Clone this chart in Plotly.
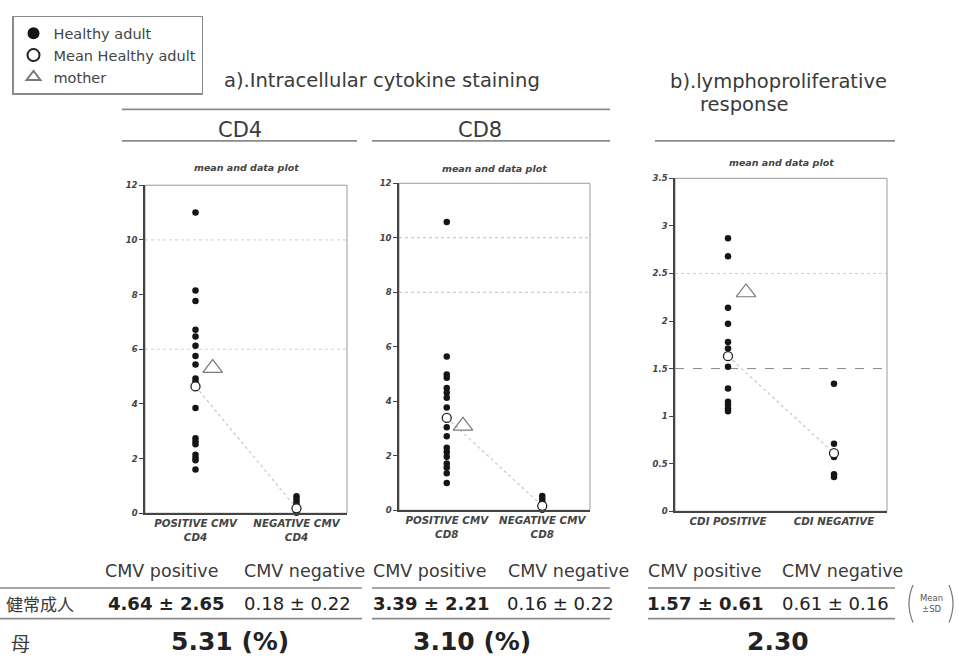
import plotly.graph_objects as go

W, H = 959, 662


def px(x):
    return x / W


def py(y):
    return 1 - y / H


# ---------------- data ----------------
cd4_tick_labels = ["POSITIVE CMV<br>CD4", "NEGATIVE CMV<br>CD4"]
cd8_tick_labels = ["POSITIVE CMV<br>CD8", "NEGATIVE CMV<br>CD8"]
cdi_tick_labels = ["CDI POSITIVE", "CDI NEGATIVE"]

cd4_positive = [11.0, 8.15, 7.76, 6.71, 6.47, 6.13, 5.75, 5.44, 4.93, 4.82,
                3.85, 2.74, 2.62, 2.52, 2.14, 2.02, 1.94, 1.60]
cd4_negative = [0.62, 0.52, 0.42, 0.32, 0.22, 0.12, 0.02]
cd4_mean = [4.64, 0.18]
cd4_mother = 5.31

cd8_positive = [10.58, 5.64, 4.98, 4.86, 4.49, 4.31, 4.13, 3.77, 3.05, 2.72,
                2.29, 2.14, 1.96, 1.72, 1.57, 1.36, 1.00]
cd8_negative = [0.52, 0.42, 0.32, 0.22, 0.10, 0.02]
cd8_mean = [3.39, 0.16]
cd8_mother = 3.10

cdi_positive = [2.87, 2.68, 2.14, 1.97, 1.78, 1.71, 1.52, 1.29, 1.15, 1.12, 1.08, 1.05]
cdi_negative = [1.34, 0.71, 0.57, 0.39, 0.36]
cdi_mean = [1.63, 0.61]
cdi_mother = 2.30

cd4_yticks = [0, 2, 4, 6, 8, 10, 12]
cd8_yticks = [0, 2, 4, 6, 8, 10, 12]
cdi_yticks = [0, 0.5, 1, 1.5, 2, 2.5, 3, 3.5]
cdi_ytick_text = ["0", "0.5", "1", "1.5", "2", "2.5", "3", "3.5"]

table_headers = ["CMV positive", "CMV negative"] * 3
healthy_row_label = "健常成人"
healthy_row_values = ["4.64 ± 2.65", "0.18 ± 0.22", "3.39 ± 2.21",
                      "0.16 ± 0.22", "1.57 ± 0.61", "0.61 ± 0.16"]
mother_row_label = "母"
mother_row_values = ["5.31 (%)", "3.10 (%)", "2.30"]

# ---------------- styling ----------------
TXT = "#3a3a3a"
FONT = "DejaVu Sans"
CJK = "Noto Sans CJK JP"
MOTHER_OFFSET = 0.17

panels = [
    dict(pos=cd4_positive, neg=cd4_negative, mean=cd4_mean, mother=cd4_mother,
         ticks=cd4_tick_labels, yt=cd4_yticks, ytt=[str(v) for v in cd4_yticks],
         yr=[0, 12], grid=[(10, "#cfcfcf", "dot"), (6, "#cfcfcf", "dot")],
         xd=[px(145), px(347)], yd=[py(516), py(183)], title_y=165),
    dict(pos=cd8_positive, neg=cd8_negative, mean=cd8_mean, mother=cd8_mother,
         ticks=cd8_tick_labels, yt=cd8_yticks, ytt=[str(v) for v in cd8_yticks],
         yr=[0, 12], grid=[(10, "#bdbdbd", "dot"), (8, "#bdbdbd", "dot")],
         xd=[px(399), px(590)], yd=[py(513), py(181)], title_y=166),
    dict(pos=cdi_positive, neg=cdi_negative, mean=cdi_mean, mother=cdi_mother,
         ticks=cdi_tick_labels, yt=cdi_yticks, ytt=cdi_ytick_text,
         yr=[0, 3.5], grid=[(2.5, "#cfcfcf", "dot"), (1.5, "#888888", "dash")],
         xd=[px(675), px(887)], yd=[py(514), py(176)], title_y=160),
]

fig = go.Figure()
shapes = []
annotations = []
layout_axes = {}

for i, p in enumerate(panels):
    n = "" if i == 0 else str(i + 1)
    xa, ya = "x" + n, "y" + n
    first = i == 0
    # connecting dotted line between means
    fig.add_trace(go.Scatter(x=[0, 1], y=p["mean"], mode="lines", xaxis=xa, yaxis=ya,
                             line=dict(color="#c8c8c8", width=1.2, dash="dot"),
                             showlegend=False, hoverinfo="skip"))
    # healthy adults
    fig.add_trace(go.Scatter(
        x=[0] * len(p["pos"]) + [1] * len(p["neg"]), y=p["pos"] + p["neg"],
        mode="markers", xaxis=xa, yaxis=ya, name="Healthy adult",
        marker=dict(color="#151515", size=6.5), cliponaxis=False,
        showlegend=first, legendgroup="h"))
    # mean
    fig.add_trace(go.Scatter(
        x=[0, 1], y=p["mean"], mode="markers", xaxis=xa, yaxis=ya,
        name="Mean Healthy adult",
        marker=dict(color="white", size=9, line=dict(color="#222", width=1.3)),
        cliponaxis=False, showlegend=first, legendgroup="m"))
    # mother
    fig.add_trace(go.Scatter(
        x=[MOTHER_OFFSET], y=[p["mother"]], mode="markers", xaxis=xa, yaxis=ya,
        name="mother",
        marker=dict(symbol="triangle-up-open", size=17, color="#7a7a7a",
                    line=dict(width=1.2)),
        showlegend=first, legendgroup="t"))

    layout_axes["xaxis" + n] = dict(
        domain=p["xd"], anchor=ya, range=[-0.5, 1.5], tickvals=[0, 1],
        ticktext=p["ticks"], showgrid=False, zeroline=False, showline=True,
        linecolor="#444", linewidth=1.5, ticks="", fixedrange=True,
        tickfont=dict(family=FONT, size=10.3, color="#444", style="italic", weight="bold"))
    layout_axes["yaxis" + n] = dict(
        domain=p["yd"], anchor=xa, range=p["yr"], tickvals=p["yt"], ticktext=p["ytt"],
        showgrid=False, zeroline=False, showline=True, linecolor="#444", linewidth=1.5,
        ticks="outside", ticklen=4, tickcolor="#444", fixedrange=True,
        tickfont=dict(family=FONT, size=8.5, color="#444", style="italic", weight="bold"))

    for val, col, dash in p["grid"]:
        shapes.append(dict(type="line", xref=xa + " domain", yref=ya, x0=0, x1=1,
                           y0=val, y1=val, line=dict(color=col, width=1, dash=dash),
                           layer="below"))
    shapes.append(dict(type="rect", xref=xa + " domain", yref=ya + " domain",
                       x0=0, x1=1, y0=0, y1=1, line=dict(color="#9a9a9a", width=1),
                       layer="below"))
    annotations.append(dict(text="mean and data plot", xref="paper", yref="paper",
                            x=(p["xd"][0] + p["xd"][1]) / 2, y=py(p["title_y"]),
                            xanchor="center", yanchor="middle", showarrow=False,
                            font=dict(family=FONT, size=9.5, color="#444",
                                      style="italic", weight="bold")))

# ---------------- headers ----------------
def ann(text, x, y, size, xanchor="center", bold=False, family=FONT, color=TXT):
    annotations.append(dict(text=text, xref="paper", yref="paper", x=px(x), y=py(y),
                            xanchor=xanchor, yanchor="middle", showarrow=False,
                            font=dict(family=family, size=size, color=color,
                                      weight="bold" if bold else "normal")))


def hline(x0, x1, y, color="#8a8a8a", width=1.6):
    shapes.append(dict(type="line", xref="paper", yref="paper", x0=px(x0), x1=px(x1),
                       y0=py(y), y1=py(y), line=dict(color=color, width=width)))


ann("a).Intracellular cytokine staining", 222, 77, 19.5, xanchor="left")
ann("b).lymphoproliferative", 668, 78, 19.5, xanchor="left")
ann("response", 698, 101, 19.5, xanchor="left")
hline(122, 610, 106)
ann("CD4", 240, 127, 21)
ann("CD8", 480, 127, 21)
hline(122, 357, 138)
hline(372, 610, 138)
hline(655, 895, 138)

# ---------------- table ----------------
header_x = [162, 304, 430, 568, 705, 842]
for t, x in zip(table_headers, header_x):
    ann(t, x, 575, 17.5)
hline(0, 362, 592)
hline(372, 610, 592)
hline(648, 895, 592)
ann(healthy_row_label, 40, 608, 17, family=CJK)
value_x = [166, 297, 431, 560, 705, 835]
for j, (t, x) in enumerate(zip(healthy_row_values, value_x)):
    ann(t, x, 608, 18, bold=(j % 2 == 0), color="#222")
hline(0, 362, 623)
hline(372, 610, 623)
hline(648, 895, 623)
ann(mother_row_label, 20, 647, 19, family=CJK)
for t, x in zip(mother_row_values, [230, 472, 778]):
    ann(t, x, 646, 25, bold=True, color="#222")

# (Mean ±SD) bracket
annotations.append(dict(text="Mean<br>±SD", xref="paper", yref="paper", x=px(931), y=py(608),
                        xanchor="center", yanchor="middle",
                        showarrow=False, font=dict(family=FONT, size=8.5, color="#555")))
shapes.append(dict(type="path", xref="paper", yref="paper",
                   path=f"M {px(913)} {py(589)} Q {px(905)} {py(608)} {px(913)} {py(627)}",
                   line=dict(color="#777", width=1.2)))
shapes.append(dict(type="path", xref="paper", yref="paper",
                   path=f"M {px(949)} {py(589)} Q {px(957)} {py(608)} {px(949)} {py(627)}",
                   line=dict(color="#777", width=1.2)))

fig.update_layout(
    width=W, height=H, margin=dict(l=0, r=0, t=0, b=0),
    paper_bgcolor="white", plot_bgcolor="white",
    shapes=shapes, annotations=annotations,
    legend=dict(x=px(12), y=py(11), xanchor="left", yanchor="top",
                bordercolor="#8a8a8a", borderwidth=1.5, bgcolor="white",
                font=dict(family=FONT, size=14.5, color="#444"),
                itemsizing="constant", tracegroupgap=0),
    **layout_axes,
)

fig.write_html("out.html", config={"displayModeBar": False},
               post_script="document.body.style.margin='0';document.body.style.overflow='hidden';")
